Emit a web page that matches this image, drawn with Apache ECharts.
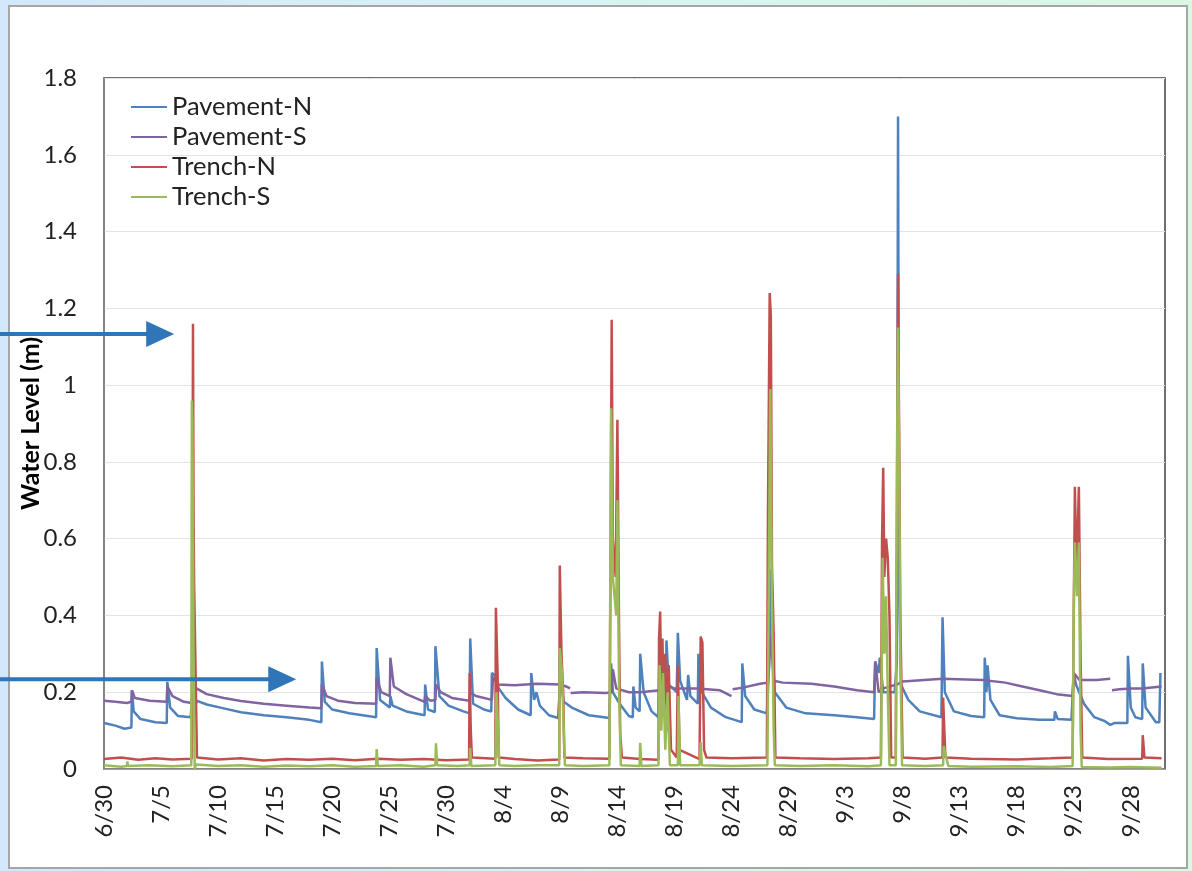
<!DOCTYPE html>
<html>
<head>
<meta charset="utf-8">
<title>Water Level</title>
<script src="https://cdn.jsdelivr.net/npm/echarts@6/dist/echarts.min.js"></script>
<style>
  html, body { margin: 0; padding: 0; }
  #chart { width: 1192px; height: 871px; }
</style>
</head>
<body>
<div id="chart"></div>
<script>
// x values are days elapsed since 6/30; y values are water level in metres.
const seriesNames = ['Pavement-N', 'Pavement-S', 'Trench-N', 'Trench-S'];
const seriesColors = ['#4f81bd', '#8064a2', '#c0504d', '#9bbb59'];
const xTickLabels = ['6/30','7/5','7/10','7/15','7/20','7/25','7/30','8/4','8/9','8/14',
                     '8/19','8/24','8/29','9/3','9/8','9/13','9/18','9/23','9/28'];
const yTickLabels = ['0','0.2','0.4','0.6','0.8','1','1.2','1.4','1.6','1.8'];

const pavementN = [
  [0,0.12],[1,0.113],[1.8,0.105],[2.4,0.108],[2.45,0.205],[2.6,0.15],[3.2,0.13],[4.5,0.122],
  [5.5,0.12],[5.55,0.227],[5.8,0.16],[6.5,0.138],[7.6,0.135],[7.75,0.2],[7.85,0.14],[8.1,0.178],
  [9,0.168],[10.5,0.158],[12,0.148],[14,0.14],[16,0.135],[18,0.128],[19.05,0.122],[19.1,0.28],
  [19.35,0.175],[20,0.155],[21.5,0.145],[23.85,0.135],[23.9,0.315],[24.2,0.18],[25.05,0.16],
  [25.1,0.19],[25.3,0.165],[26.5,0.15],[28.1,0.14],[28.15,0.22],[28.4,0.155],[29.0,0.148],
  [29.05,0.32],[29.4,0.19],[30.2,0.165],[31.5,0.15],[32.05,0.145],[32.1,0.34],[32.35,0.17],
  [33.3,0.155],[33.95,0.15],[34.0,0.25],[34.4,0.24],[34.6,0.21],[35.2,0.185],[36.3,0.155],
  [37.4,0.14],[37.45,0.25],[37.7,0.18],[37.85,0.175],[37.9,0.2],[38.2,0.165],[39.0,0.14],
  [39.8,0.133],[40.0,0.23],[40.3,0.175],[41.0,0.16],[42.5,0.14],[44.3,0.133],[44.45,0.275],
  [44.6,0.2],[45.2,0.17],[46.0,0.138],[46.35,0.135],[46.4,0.215],[46.6,0.16],[46.95,0.15],
  [47.0,0.30],[47.3,0.2],[48.0,0.15],[48.6,0.135],[48.7,0.335],[48.9,0.22],[49.25,0.2],
  [49.3,0.335],[49.5,0.22],[50.2,0.2],[50.3,0.355],[50.5,0.23],[51.1,0.18],[51.2,0.245],
  [51.4,0.19],[52.05,0.17],[52.1,0.30],[52.4,0.2],[53.2,0.16],[54.5,0.135],[55.9,0.122],
  [55.95,0.275],[56.2,0.19],[57.0,0.155],[58.1,0.145],[58.3,0.27],[58.45,0.52],[58.6,0.3],
  [58.8,0.2],[59.8,0.16],[61.5,0.145],[64,0.14],[66,0.135],[67.5,0.13],[67.6,0.28],[67.9,0.25],
  [68.0,0.29],[68.3,0.2],[69.3,0.2],[69.5,0.28],[69.6,1.70],[69.7,0.5],[69.85,0.22],[70.5,0.18],
  [71.5,0.15],[73.4,0.135],[73.5,0.395],[73.7,0.2],[74.5,0.15],[76,0.138],[77.15,0.135],
  [77.2,0.29],[77.35,0.2],[77.45,0.27],[77.7,0.18],[78.5,0.14],[80,0.132],[82,0.128],
  [83.3,0.128],[83.35,0.15],[83.6,0.13],[84.8,0.128],[85.0,0.25],[85.2,0.22],[85.9,0.17],
  [86.8,0.135],[87.7,0.125],[88.2,0.115],[88.6,0.12],[89.7,0.12],[89.75,0.295],[90.0,0.16],
  [90.4,0.135],[91.0,0.13],[91.05,0.275],[91.3,0.16],[92.2,0.122],[92.5,0.122],[92.6,0.25]
];

const pavementS = [
  [0,0.178],[1,0.175],[2,0.172],[2.4,0.175],[2.45,0.205],[2.7,0.185],[4,0.178],[5.5,0.175],
  [5.55,0.215],[6.0,0.19],[7.0,0.175],[7.7,0.172],[8.1,0.21],[9,0.195],[10.5,0.185],[12,0.177],
  [14,0.17],[16,0.165],[18,0.16],[19.05,0.158],[19.1,0.22],[19.5,0.19],[20.5,0.178],[22,0.172],
  [23.85,0.17],[23.9,0.237],[24.3,0.2],[25.05,0.19],[25.1,0.29],[25.4,0.215],[26.5,0.195],
  [28.1,0.175],[28.15,0.19],[28.6,0.178],[29.05,0.18],[29.1,0.22],[29.5,0.2],[30.5,0.185],
  [32.0,0.178],[32.1,0.2],[32.6,0.19],[34.0,0.18],[34.1,0.24],[34.5,0.22],[36,0.218],
  [38,0.222],[40,0.22],[40.5,0.215],[40.85,0.21],[40.87,null],[40.9,0.198],[42,0.2],[44,0.198],
  [44.5,0.2],[44.6,0.26],[44.9,0.21],[46,0.2],[47,0.2],[48.7,0.205],[49.0,0.22],[50,0.21],
  [52,0.21],[54,0.205],[55.0,0.19],[55.05,null],[55.1,0.208],[56,0.212],[57.5,0.222],
  [58.2,0.225],[58.45,0.35],[58.7,0.23],[59.5,0.225],[62,0.222],[64,0.215],[66,0.205],
  [67.5,0.2],[67.6,0.28],[67.9,0.2],[68.3,0.21],[69.5,0.22],[70,0.228],[73.5,0.235],[77,0.232],
  [79,0.225],[80.5,0.215],[82,0.205],[83.5,0.195],[84.9,0.19],[85.0,0.25],[85.5,0.232],
  [87.0,0.232],[88.2,0.235],[88.25,null],[88.35,0.205],[89,0.208],[90,0.21],[91,0.21],
  [92.7,0.215]
];

const trenchN = [
  [0,0.026],[1.5,0.03],[3,0.024],[4.5,0.028],[6,0.025],[7.7,0.027],[7.75,0.5],[7.8,1.16],
  [7.85,0.67],[7.9,0.48],[8.0,0.3],[8.15,0.03],[10,0.025],[12,0.028],[14,0.022],[16,0.026],
  [18,0.024],[20,0.027],[22,0.023],[24,0.027],[26,0.024],[28,0.026],[30,0.023],[32.0,0.025],
  [32.05,0.25],[32.15,0.1],[32.25,0.03],[34.3,0.027],[34.35,0.42],[34.5,0.25],[34.6,0.03],
  [36,0.026],[38,0.022],[39.9,0.025],[39.95,0.53],[40.1,0.3],[40.25,0.2],[40.35,0.03],
  [42,0.028],[44.3,0.027],[44.4,0.54],[44.5,1.17],[44.6,0.6],[44.85,0.5],[45.0,0.91],
  [45.15,0.35],[45.25,0.09],[45.4,0.03],[47,0.026],[48.6,0.024],[48.65,0.34],[48.75,0.41],
  [48.85,0.2],[48.95,0.34],[49.05,0.15],[49.2,0.3],[49.35,0.1],[49.5,0.27],[49.7,0.05],
  [50.2,0.03],[50.3,0.27],[50.45,0.05],[52.2,0.026],[52.3,0.345],[52.45,0.33],[52.6,0.05],
  [52.8,0.03],[55,0.028],[58.1,0.03],[58.2,0.67],[58.35,1.24],[58.45,1.18],[58.55,0.53],
  [58.7,0.35],[58.85,0.03],[61,0.028],[64,0.026],[67,0.028],[68.1,0.03],[68.2,0.6],
  [68.3,0.785],[68.4,0.5],[68.55,0.6],[68.7,0.55],[68.85,0.4],[69.0,0.03],[69.4,0.03],
  [69.5,0.6],[69.6,1.29],[69.7,0.86],[69.8,0.4],[70.0,0.03],[72,0.027],[73.5,0.03],
  [73.55,0.186],[73.75,0.03],[76,0.027],[80,0.025],[83,0.028],[84.9,0.03],[85.0,0.4],
  [85.1,0.735],[85.25,0.5],[85.45,0.735],[85.6,0.29],[85.75,0.03],[88,0.026],[91.0,0.027],
  [91.05,0.088],[91.2,0.03],[92.7,0.028]
];

const trenchS = [
  [0,0.01],[1.5,0.006],[2.0,0.008],[2.05,0.02],[2.1,0.008],[4,0.01],[6,0.007],[7.65,0.01],
  [7.7,0.96],[7.75,0.9],[7.85,0.3],[7.95,0.0],[8.05,0.012],[10,0.008],[12,0.01],[14,0.006],
  [16,0.009],[18,0.007],[20,0.01],[22,0.006],[23.85,0.008],[23.9,0.052],[24.0,0.008],[26,0.01],
  [28,0.006],[29.05,0.01],[29.1,0.067],[29.2,0.01],[31,0.008],[32.05,0.01],[32.1,0.055],
  [32.2,0.008],[34.3,0.01],[34.4,0.2],[34.55,0.1],[34.65,0.01],[36,0.008],[38,0.01],[39.9,0.01],
  [39.95,0.315],[40.15,0.25],[40.3,0.1],[40.4,0.01],[42,0.008],[44.3,0.01],[44.45,0.94],
  [44.6,0.5],[44.9,0.4],[45.0,0.7],[45.15,0.2],[45.3,0.01],[46.95,0.008],[47.0,0.068],
  [47.1,0.008],[48.6,0.01],[48.7,0.27],[48.85,0.1],[49.0,0.25],[49.2,0.05],[49.4,0.2],
  [49.6,0.01],[50.3,0.01],[50.35,0.19],[50.5,0.01],[52.2,0.01],[52.3,0.07],[52.4,0.01],
  [55,0.008],[58.15,0.01],[58.3,0.6],[58.4,0.99],[58.55,0.43],[58.7,0.1],[58.8,0.01],
  [61,0.008],[64,0.01],[67,0.007],[68.1,0.01],[68.25,0.55],[68.4,0.3],[68.55,0.45],[68.7,0.2],
  [68.85,0.01],[69.4,0.01],[69.5,0.8],[69.6,1.15],[69.7,0.8],[69.8,0.3],[69.95,0.01],[72,0.008],
  [73.55,0.01],[73.6,0.06],[74,0.008],[76,0.006],[80,0.007],[83,0.005],[84.9,0.008],[85.0,0.42],
  [85.1,0.59],[85.3,0.45],[85.45,0.59],[85.6,0.1],[85.7,0.005],[88,0.004],[90,0.005],
  [92.7,0.003]
];

// Callout arrows: level they point at (m) and the day position of the tip.
const arrowLevels = [1.133, 0.234];
const arrowTipDays = [6.15, 16.85];

const FONT = 'Lato, "Open Sans", sans-serif';
const chart = echarts.init(document.getElementById('chart'), null, { renderer: 'canvas' });

const seriesData = [pavementN, pavementS, trenchN, trenchS];

chart.setOption({
  animation: false,
  backgroundColor: new echarts.graphic.LinearGradient(0, 0, 1, 0, [
    { offset: 0, color: '#d2e8fb' },
    { offset: 0.5, color: '#d8f4f3' },
    { offset: 1, color: '#daf8e2' }
  ]),
  textStyle: { fontFamily: FONT },
  grid: {
    left: 104, right: 27, top: 78, bottom: 102,
    show: true, borderColor: '#404040', borderWidth: 1.5, backgroundColor: 'transparent'
  },
  legend: {
    orient: 'vertical', left: 126, top: 89,
    icon: 'rect', itemWidth: 36, itemHeight: 2, itemGap: 4,
    textStyle: { fontFamily: FONT, fontSize: 25.5, color: '#222' },
    data: seriesNames
  },
  xAxis: {
    type: 'value', min: 0, max: 93, interval: 5,
    axisLine: { show: true, lineStyle: { color: '#8c8c8c', width: 1.5 } },
    axisTick: { show: false },
    splitLine: { show: false },
    axisLabel: {
      rotate: 90, margin: 16, fontSize: 24, color: '#222', fontFamily: FONT,
      showMaxLabel: false,
      formatter: v => (v % 5 === 0 && xTickLabels[v / 5]) ? xTickLabels[v / 5] : ''
    }
  },
  yAxis: {
    type: 'value', min: 0, max: 1.8, interval: 0.2,
    name: 'Water Level (m)', nameLocation: 'middle', nameGap: 61, nameRotate: 90,
    nameMoveOverlap: false,
    nameTextStyle: { fontFamily: FONT, fontSize: 25, fontWeight: 'bold', color: '#000' },
    axisLine: { show: true, lineStyle: { color: '#8c8c8c', width: 1.5 } },
    axisTick: { show: false },
    splitLine: { show: true, lineStyle: { color: '#e3e3e3', width: 1 } },
    axisLabel: {
      margin: 27, fontSize: 24, color: '#222', fontFamily: FONT,
      formatter: v => yTickLabels[Math.round(v / 0.2)]
    }
  },
  series: seriesNames.map((name, i) => ({
    name, type: 'line', data: seriesData[i],
    symbol: 'none', showSymbol: false, connectNulls: false,
    lineStyle: { color: seriesColors[i], width: 2.5 },
    itemStyle: { color: seriesColors[i] }
  }))
});

// White slide panel behind the chart plus the two callout arrows.
const arrowColor = '#2f75b8';
const graphics = [{
  type: 'rect', z: -10, silent: true,
  shape: { x: 9, y: 6, width: 1178, height: 862 },
  style: { fill: '#ffffff', stroke: '#a6a6a6', lineWidth: 2 }
}];
arrowLevels.forEach((lvl, i) => {
  const [tipX, y] = chart.convertToPixel({ gridIndex: 0 }, [arrowTipDays[i], lvl]);
  graphics.push({
    type: 'line', z: 100, silent: true,
    shape: { x1: 0, y1: y, x2: tipX - 26, y2: y },
    style: { stroke: arrowColor, lineWidth: 4 }
  });
  graphics.push({
    type: 'polygon', z: 100, silent: true,
    shape: { points: [[tipX - 28, y - 13], [tipX, y], [tipX - 28, y + 13]] },
    style: { fill: arrowColor }
  });
});
chart.setOption({ graphic: graphics });
</script>
</body>
</html>
